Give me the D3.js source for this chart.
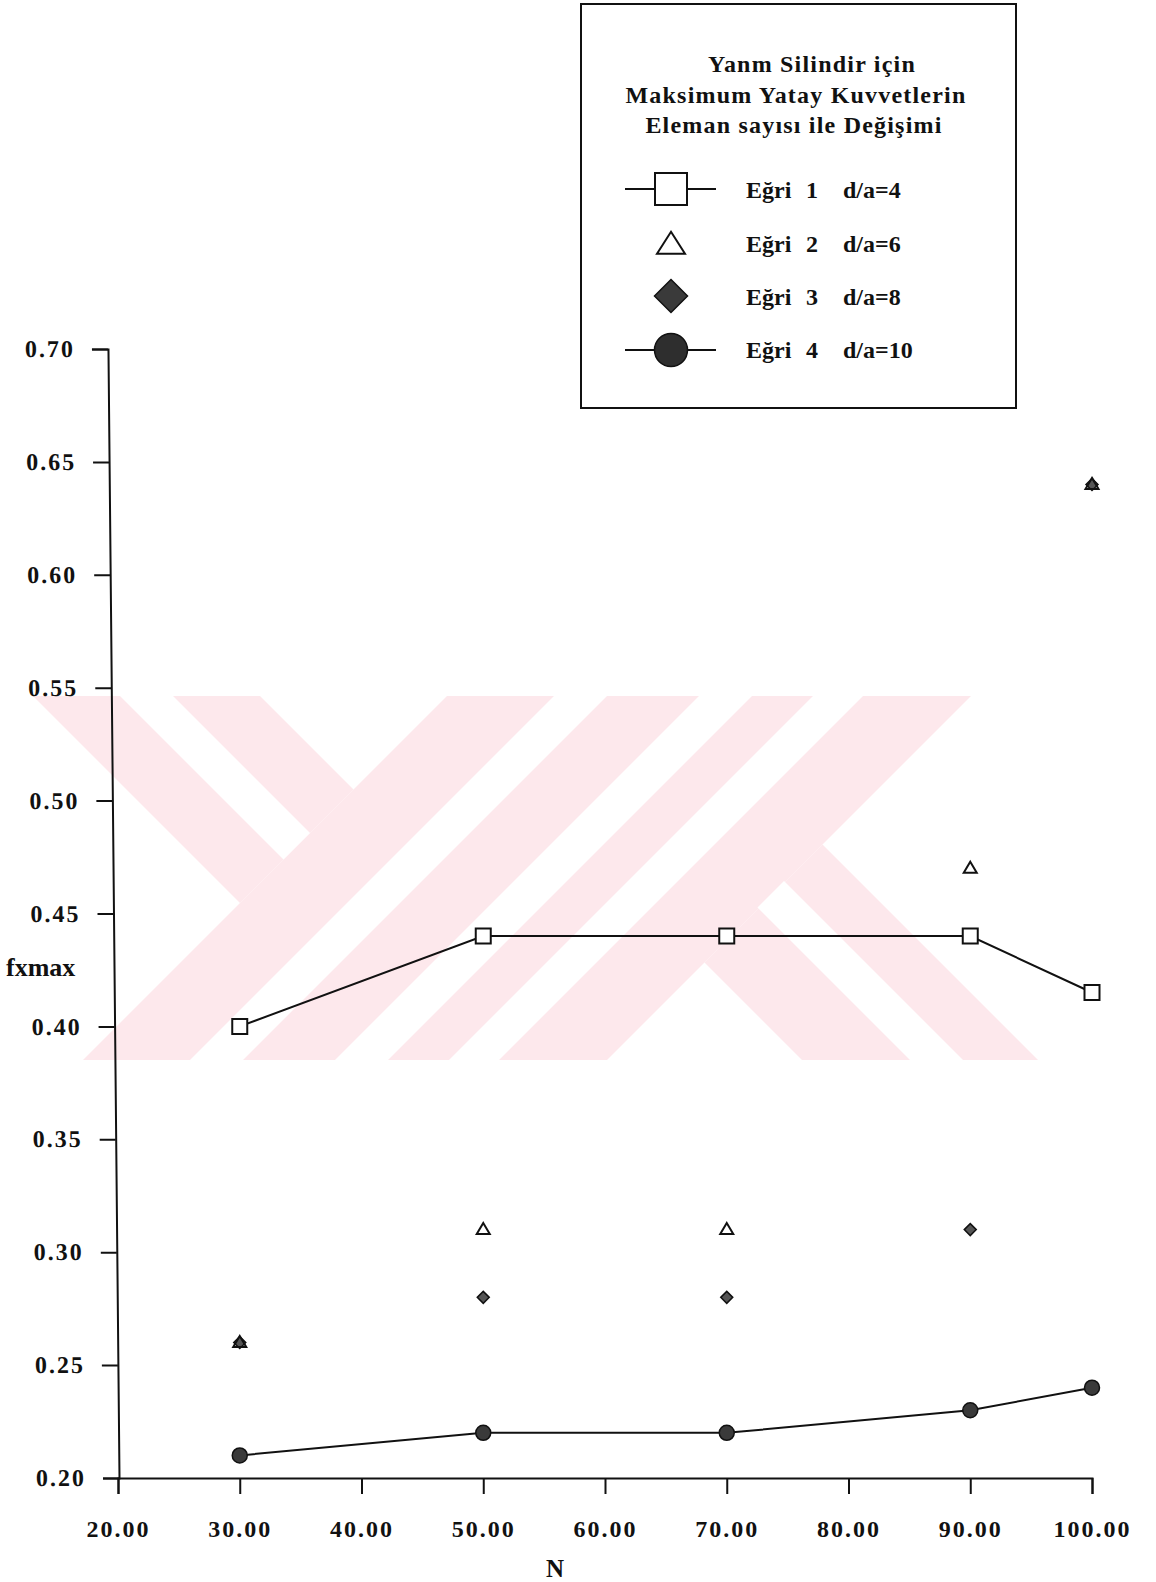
<!DOCTYPE html>
<html>
<head>
<meta charset="utf-8">
<script src="https://cdn.jsdelivr.net/npm/d3@7"></script>
<style>
  html, body { margin: 0; padding: 0; background: #fff; }
  svg { display: block; }
  text { font-family: "Liberation Serif", "Times New Roman", serif; fill: #111; }
</style>
</head>
<body>
<div id="chart"></div>
<script>
// ---- data ----
const nValues = [30, 50, 70, 90, 100];
const egri1 = [0.40, 0.44, 0.44, 0.44, 0.415];   // d/a = 4
const egri2 = [0.26, 0.31, 0.31, 0.47, 0.64];    // d/a = 6
const egri3 = [0.26, 0.28, 0.28, 0.31, 0.64];    // d/a = 8
const egri4 = [0.21, 0.22, 0.22, 0.23, 0.24];    // d/a = 10

const xTicks = [20, 30, 40, 50, 60, 70, 80, 90, 100];
const yTicks = [0.20, 0.25, 0.30, 0.35, 0.40, 0.45, 0.50, 0.55, 0.60, 0.65, 0.70];

const legendTitle = ["Yanm Silindir için", "Maksimum Yatay  Kuvvetlerin", "Eleman sayısı ile Değişimi"];
const curveNames = ["Eğri", "Eğri", "Eğri", "Eğri"];
const curveNumbers = ["1", "2", "3", "4"];
const ratioLabels = ["d/a=4", "d/a=6", "d/a=8", "d/a=10"];
const xTitle = "N";
const yTitle = "fxmax";

// ---- layout ----
const W = 1156, H = 1582;
const svg = d3.select("#chart").append("svg")
  .attr("width", W).attr("height", H)
  .attr("viewBox", `0 0 ${W} ${H}`);
svg.append("rect").attr("width", W).attr("height", H).attr("fill", "#fff");

const x = d3.scaleLinear().domain([20, 100]).range([118, 1092]);
const y = d3.scaleLinear().domain([0.20, 0.70]).range([1478, 349]);

// ---- background emblem (diagonal bands) ----
function clipHalf(poly, a, b, c) { // keep a*x + b*y <= c
  const out = [];
  for (let i = 0; i < poly.length; i++) {
    const p = poly[i], q = poly[(i + 1) % poly.length];
    const fp = a * p[0] + b * p[1] - c, fq = a * q[0] + b * q[1] - c;
    if (fp <= 0) out.push(p);
    if ((fp < 0 && fq > 0) || (fp > 0 && fq < 0)) {
      const t = fp / (fp - fq);
      out.push([p[0] + t * (q[0] - p[0]), p[1] + t * (q[1] - p[1])]);
    }
  }
  return out;
}
// half-plane helpers in diagonal coordinates u = x + y, v = x - y
const uMin = k => [-1, -1, -k], uMax = k => [1, 1, k];
const vMin = k => [-1, 1, -k], vMax = k => [1, -1, k];
function band(cons) {
  let poly = [[0, 696], [W, 696], [W, 1060], [0, 1060]];
  cons.forEach(c => { poly = clipHalf(poly, c[0], c[1], c[2]); });
  return poly;
}
const emblem = svg.append("g").attr("class", "emblem");
const pinkBands = [
  [uMin(1143), uMax(1667)],
  [vMin(-663), vMax(-436), uMax(1143)],
  [vMin(-258), vMax(-22), uMin(1667)]
];
const gapBands = [
  [vMin(-576), vMax(-523), uMax(1143)],
  [uMin(1250), uMax(1303)],
  [uMin(1395), uMax(1448)],
  [uMin(1509), uMax(1559)],
  [vMin(-150), vMax(-97), uMin(1665)]
];
emblem.selectAll("path.pink").data(pinkBands).join("path")
  .attr("class", "pink")
  .attr("d", d => d3.line()(band(d)) + "Z")
  .attr("fill", "#fde8ec");
emblem.selectAll("path.gap").data(gapBands).join("path")
  .attr("class", "gap")
  .attr("d", d => d3.line()(band(d)) + "Z")
  .attr("fill", "#fff");

// ---- axes ----
const tickFont = g => g.selectAll("text")
  .attr("font-family", '"Liberation Serif", "Times New Roman", serif')
  .attr("font-weight", "bold")
  .attr("font-size", 24)
  .attr("letter-spacing", "2px")
  .attr("fill", "#111");

const y0 = y(0.20);
const yAxisG = svg.append("g")
  .attr("transform", `translate(${x(20) + 1},${y0}) skewX(0.56) translate(0,${-y0})`)
  .call(d3.axisLeft(y).tickValues(yTicks).tickFormat(d3.format(".2f"))
    .tickSize(16).tickPadding(17))
  .call(tickFont);
yAxisG.selectAll("path,line").attr("stroke", "#111").attr("stroke-width", 2);

const xAxisG = svg.append("g")
  .attr("transform", `translate(0,${y0})`)
  .call(d3.axisBottom(x).tickValues(xTicks).tickFormat(d3.format(".2f"))
    .tickSize(16).tickPadding(26))
  .call(tickFont);
xAxisG.selectAll("path,line").attr("stroke", "#111").attr("stroke-width", 2);

svg.append("text").attr("x", 6).attr("y", 976)
  .attr("font-size", 26).attr("font-weight", "bold").text(yTitle);
svg.append("text").attr("x", 555).attr("y", 1577).attr("text-anchor", "middle")
  .attr("font-size", 25).attr("font-weight", "bold").text(xTitle);

// ---- marker shapes ----
function squarePath(s) { const h = s / 2; return `M${-h},${-h}H${h}V${h}H${-h}Z`; }
function trianglePath(w, hgt) { return `M0,${-hgt * 0.6}L${w / 2},${hgt * 0.4}L${-w / 2},${hgt * 0.4}Z`; }
function diamondPath(s) { const h = s / 2; return `M0,${-h}L${h},0L0,${h}L${-h},0Z`; }

const toPts = vals => nValues.map((n, i) => ({ n, v: vals[i] }));
const line = d3.line().x(d => x(d.n)).y(d => y(d.v));

// connecting lines for curves 1 and 4
[egri1, egri4].forEach(vals => {
  svg.append("path").datum(toPts(vals))
    .attr("d", line).attr("fill", "none")
    .attr("stroke", "#111").attr("stroke-width", 2);
});

const plot = svg.append("g");
plot.selectAll("path.sq").data(toPts(egri1)).join("path").attr("class", "sq")
  .attr("transform", d => `translate(${x(d.n)},${y(d.v)})`)
  .attr("d", squarePath(15)).attr("fill", "#fff").attr("stroke", "#111").attr("stroke-width", 2);
plot.selectAll("path.dm").data(toPts(egri3)).join("path").attr("class", "dm")
  .attr("transform", d => `translate(${x(d.n)},${y(d.v)})`)
  .attr("d", diamondPath(12)).attr("fill", "#555").attr("stroke", "#111").attr("stroke-width", 1.5);
plot.selectAll("path.tr").data(toPts(egri2)).join("path").attr("class", "tr")
  .attr("transform", d => `translate(${x(d.n)},${y(d.v)})`)
  .attr("d", trianglePath(13, 11)).attr("fill", "none").attr("stroke", "#111").attr("stroke-width", 2);
plot.selectAll("circle.ci").data(toPts(egri4)).join("circle").attr("class", "ci")
  .attr("cx", d => x(d.n)).attr("cy", d => y(d.v)).attr("r", 7.5)
  .attr("fill", "#3a3a3a").attr("stroke", "#111").attr("stroke-width", 1.5);

// ---- legend ----
const lg = svg.append("g");
lg.append("rect").attr("x", 581).attr("y", 4).attr("width", 435).attr("height", 404)
  .attr("fill", "#fff").attr("stroke", "#111").attr("stroke-width", 2);
const titleX = [812, 796, 794], titleY = [72, 103, 133];
lg.selectAll("text.title").data(legendTitle).join("text").attr("class", "title")
  .attr("x", (d, i) => titleX[i]).attr("y", (d, i) => titleY[i])
  .attr("text-anchor", "middle").attr("font-size", 24).attr("font-weight", "bold")
  .attr("letter-spacing", "1.2px")
  .text(d => d);

const rowY = [189, 243, 296, 350];
const symX = 671;
// sample lines for the connected curves
[0, 3].forEach(i => {
  lg.append("line").attr("x1", 625).attr("x2", 716).attr("y1", rowY[i]).attr("y2", rowY[i])
    .attr("stroke", "#111").attr("stroke-width", 2);
});
lg.append("path").attr("transform", `translate(${symX},${rowY[0]})`)
  .attr("d", squarePath(32)).attr("fill", "#fff").attr("stroke", "#111").attr("stroke-width", 2);
lg.append("path").attr("transform", `translate(${symX},${rowY[1] + 2})`)
  .attr("d", trianglePath(28, 22)).attr("fill", "#fff").attr("stroke", "#111").attr("stroke-width", 2);
lg.append("path").attr("transform", `translate(${symX},${rowY[2]})`)
  .attr("d", diamondPath(33)).attr("fill", "#3a3a3a").attr("stroke", "#111").attr("stroke-width", 1.5);
lg.append("circle").attr("cx", symX).attr("cy", rowY[3]).attr("r", 16.5)
  .attr("fill", "#2e2e2e").attr("stroke", "#111").attr("stroke-width", 1.5);

const labY = [198, 252, 305, 358];
const rows = lg.selectAll("g.row").data(ratioLabels).join("g").attr("class", "row");
rows.append("text").attr("x", 746).attr("y", (d, i) => labY[i])
  .attr("font-size", 24).attr("font-weight", "bold").text((d, i) => curveNames[i]);
rows.append("text").attr("x", 806).attr("y", (d, i) => labY[i])
  .attr("font-size", 24).attr("font-weight", "bold").text((d, i) => curveNumbers[i]);
rows.append("text").attr("x", 843).attr("y", (d, i) => labY[i])
  .attr("font-size", 24).attr("font-weight", "bold").text(d => d);
</script>
</body>
</html>
